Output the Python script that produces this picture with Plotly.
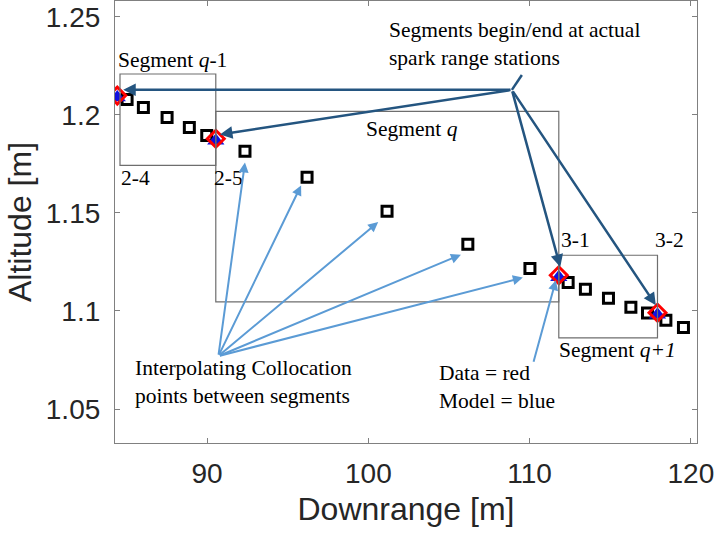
import plotly.graph_objects as go

# Collocation points (black squares)
coll_x = [85.04, 86.05, 87.52, 88.90, 89.98, 92.35, 96.20, 101.16, 106.17, 110.02,
          112.39, 113.46, 114.89, 116.28, 117.31, 118.45, 119.54]
coll_y = [1.2078, 1.2037, 1.1986, 1.1935, 1.1894, 1.1814, 1.1681, 1.1508, 1.1340, 1.1216,
          1.1145, 1.1111, 1.1065, 1.1019, 1.0990, 1.0953, 1.0916]

# Spark range stations: data (red) and model (blue)
station_x = [84.43, 90.54, 111.81, 117.93]
data_y = [1.2098, 1.1878, 1.1182, 1.0991]
model_y = [1.2088, 1.1868, 1.1172, 1.0981]
station_labels = ["2-4", "2-5", "3-1", "3-2"]

xticks = [90, 100, 110, 120]
yticks = [1.05, 1.1, 1.15, 1.2, 1.25]

fig = go.Figure()
fig.add_trace(go.Scatter(x=coll_x, y=coll_y, mode="markers",
                         marker=dict(symbol="square-open", size=10, color="black",
                                     line=dict(width=3, color="black")),
                         showlegend=False))
fig.add_trace(go.Scatter(x=station_x, y=model_y, mode="markers",
                         marker=dict(symbol="triangle-up", size=15, color="#1010e0"),
                         showlegend=False))
fig.add_trace(go.Scatter(x=station_x, y=data_y, mode="markers",
                         marker=dict(symbol="diamond-open", size=13, color="red",
                                     line=dict(width=3, color="red")),
                         showlegend=False))

# Segment boxes
gray = "#6e6e6e"
boxes = [(84.6, station_x[1], 1.1742, 1.2208),
         (station_x[1], station_x[2], 1.1046, 1.2017),
         (station_x[2], station_x[3], 1.0863, 1.1284)]
for x0, x1, y0, y1 in boxes:
    fig.add_shape(type="rect", x0=x0, x1=x1, y0=y0, y1=y1, xref="x", yref="y",
                  line=dict(color=gray, width=1.2))

serif = dict(family="Liberation Serif, Times New Roman, serif", size=21.5, color="black")

texts = [
    (87.83, 1.2281, "Segment <i>q</i>-1", "center"),
    (85.53, 1.168, station_labels[0], "center"),
    (91.30, 1.168, station_labels[1], "center"),
    (102.71, 1.193, "Segment <i>q</i>", "center"),
    (112.83, 1.136, station_labels[2], "center"),
    (118.66, 1.136, station_labels[3], "center"),
    (115.43, 1.080, "Segment <i>q+1</i>", "center"),
    (101.16, 1.236, "Segments begin/end at actual<br>spark range stations", "left"),
    (85.41, 1.0637, "Interpolating Collocation<br>points between segments", "left"),
    (104.26, 1.0612, "Data = red<br>Model = blue", "left"),
]
for x, y, t, anc in texts:
    fig.add_annotation(x=x, y=y, text=t, showarrow=False, xanchor=anc, yanchor="middle",
                       align="left", font=serif)

dark = "#245580"
light = "#5b9bd5"
hub_d = (108.90, 1.2127)
dark_tips = [(84.80, 1.2127), (90.80, 1.1900), (111.90, 1.1224), (117.83, 1.1029)]
for tx, ty in dark_tips:
    fig.add_annotation(x=tx, y=ty, ax=hub_d[0], ay=hub_d[1], axref="x", ayref="y",
                       xref="x", yref="y", showarrow=True, arrowhead=2, arrowsize=1,
                       arrowwidth=2.5, arrowcolor=dark, text="", standoff=0)
fig.add_shape(type="line", x0=hub_d[0], y0=hub_d[1], x1=109.52, y1=1.2203,
              line=dict(color=dark, width=2.5))

hub_l = (90.70, 1.0770)
light_tips = [(92.35, 1.1757), (95.83, 1.1640), (100.61, 1.1453), (105.74, 1.1287), (109.58, 1.1170)]
for tx, ty in light_tips:
    fig.add_annotation(x=tx, y=ty, ax=hub_l[0], ay=hub_l[1], axref="x", ayref="y",
                       xref="x", yref="y", showarrow=True, arrowhead=2, arrowsize=1,
                       arrowwidth=2, arrowcolor=light, text="", standoff=0)
fig.add_annotation(x=111.63, y=1.1157, ax=110.22, ay=1.0734, axref="x", ayref="y",
                   xref="x", yref="y", showarrow=True, arrowhead=2, arrowsize=1,
                   arrowwidth=2, arrowcolor=light, text="", standoff=0)

sans = "Liberation Sans, Arial, sans-serif"
axis_font = dict(family=sans, size=28, color="#262626")
common = dict(showgrid=False, zeroline=False, showline=True, linecolor="#808080",
              linewidth=1.2, mirror="ticks", ticks="inside", ticklen=5,
              tickcolor="#808080", tickfont=axis_font, ticklabeloverflow="allow")
fig.update_xaxes(range=[84.29, 120.38], tickvals=xticks, ticktext=[str(v) for v in xticks],
                 ticklabelstandoff=5,
                 title=dict(text="Downrange [m]", font=dict(family=sans, size=32, color="#262626"),
                            standoff=9),
                 **common)
fig.update_yaxes(range=[1.0327, 1.258], tickvals=yticks, ticktext=["1.05", "1.1", "1.15", "1.2", "1.25"],
                 ticklabelstandoff=8,
                 title=dict(text="Altitude [m]", font=dict(family=sans, size=32, color="#262626"),
                            standoff=4),
                 **common)
fig.update_layout(width=714, height=537, margin=dict(l=115, r=17, t=1, b=94),
                  plot_bgcolor="white", paper_bgcolor="white")
fig.write_html("out.html")
